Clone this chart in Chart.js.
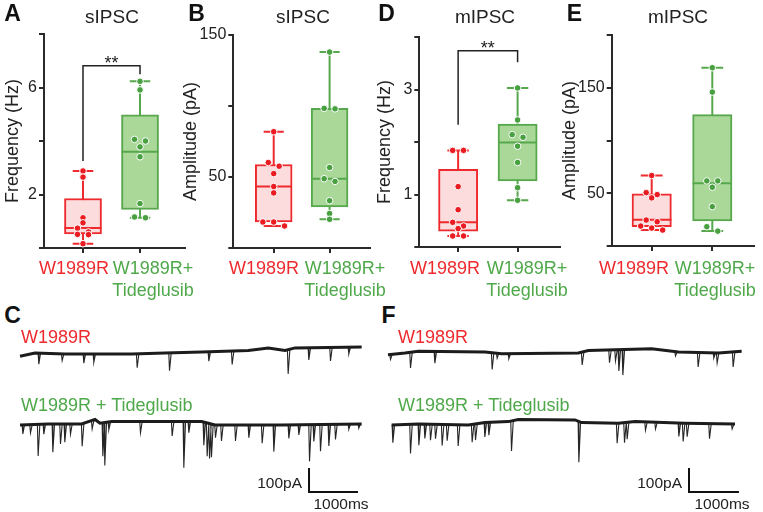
<!DOCTYPE html>
<html>
<head>
  <meta charset="UTF-8">
  <title>sIPSC / mIPSC W1989R vs Tideglusib</title>
  <script src="https://cdn.jsdelivr.net/npm/chart.js@4.4.1/dist/chart.umd.min.js"></script>
  <style>
    body { margin: 0; background: #fff; font-family: "Liberation Sans", Arial, sans-serif; }
    #fig { position: relative; width: 763px; height: 512px; overflow: hidden; }
    canvas { position: absolute; }
    .t { position: absolute; white-space: nowrap; line-height: 1; transform: translate(-50%, -50%); color: #222; }
    .l { position: absolute; white-space: nowrap; line-height: 1; transform: translateY(-50%); font-size: 18px; }
    .r { position: absolute; white-space: nowrap; line-height: 1; transform: translate(-100%, -50%); font-size: 15.5px; color: #222; }
    .letter { font-weight: bold; font-size: 23px; color: #111; }
    .title { font-size: 19px; }
    .cat { position: absolute; white-space: nowrap; text-align: center; line-height: 22px; font-size: 18px; transform: translate(-50%, -11px); }
    .red { color: #ee2a2e; }
    .green { color: #4fa84a; }
  </style>
</head>
<body>
<div id="fig">
  <canvas id="chartA" width="190" height="240" style="left:0px;top:20px"></canvas>
  <canvas id="chartB" width="195" height="239" style="left:180px;top:21px"></canvas>
  <canvas id="chartD" width="195" height="236" style="left:370px;top:23px"></canvas>
  <canvas id="chartE" width="202" height="237" style="left:558px;top:21px"></canvas>
  <canvas id="chartC" width="350" height="170" style="left:15px;top:335px"></canvas>
  <canvas id="chartF" width="365" height="170" style="left:383px;top:335px"></canvas>

  <div class="t letter" style="left:12.5px;top:12.5px">A</div>
  <div class="t letter" style="left:196.5px;top:12.5px">B</div>
  <div class="t letter" style="left:386.5px;top:12.5px">D</div>
  <div class="t letter" style="left:574.5px;top:12.5px">E</div>
  <div class="t letter" style="left:12.5px;top:315px">C</div>
  <div class="t letter" style="left:388.5px;top:315px">F</div>

  <div class="t title" style="left:112px;top:16px">sIPSC</div>
  <div class="t title" style="left:303px;top:16px">sIPSC</div>
  <div class="t title" style="left:485px;top:16px">mIPSC</div>
  <div class="t title" style="left:678px;top:16px">mIPSC</div>

  <div class="l red" style="left:21px;top:337px">W1989R</div>
  <div class="l green" style="left:21px;top:405px">W1989R + Tideglusib</div>
  <div class="l red" style="left:398px;top:337px">W1989R</div>
  <div class="l green" style="left:398px;top:405px">W1989R + Tideglusib</div>

  <div class="r" id="paC" style="left:302px;top:483px"></div>
  <div class="t" id="msC" style="left:341px;top:504px;font-size:15.5px"></div>
  <div class="r" id="paF" style="left:682px;top:483px"></div>
  <div class="t" id="msF" style="left:722px;top:504px;font-size:15.5px"></div>
</div>

<script>
  // ---- categories ----
  const groups = ['W1989R', 'W1989R+ Tideglusib'];

  // ---- A: sIPSC frequency (Hz) ----
  const sFreqMax = 8, sFreqStep = 2, sFreqTicks = [2, 6];
  const sFreqRed = [2.88, 2.65, 1.13, 0.94, 0.74, 0.6, 0.51, 0.5, 0.16];
  const sFreqGreen = [6.23, 5.91, 4.06, 4.0, 3.78, 3.41, 1.66, 1.16, 1.13];
  const sFreqRedBox = [0.16, 0.53, 0.75, 1.85, 2.88];     // min, q1, median, q3, max
  const sFreqGreenBox = [1.13, 1.44, 3.6, 4.98, 6.23];
  const sFreqSig = [3.25, 6.81, 6.5];                     // left foot, top, right foot

  // ---- B: sIPSC amplitude (pA) ----
  const sAmpMax = 150, sAmpStep = 50, sAmpTicks = [50, 150];
  const sAmpRed = [81.9, 60.2, 57.6, 52.4, 43.3, 38.8, 18.3, 18.3, 15.5];
  const sAmpGreen = [138, 98.3, 98, 56.7, 48.8, 46.9, 33.3, 24.3, 20.2];
  const sAmpRedBox = [15.5, 18.3, 43.3, 58.8, 81.9];
  const sAmpGreenBox = [20.2, 29, 48.8, 98.3, 138];

  // ---- D: mIPSC frequency (Hz) ----
  const mFreqMax = 4, mFreqStep = 1, mFreqTicks = [1, 3];
  const mFreqRed = [1.84, 1.84, 1.15, 0.71, 0.47, 0.4, 0.35, 0.21, 0.21];
  const mFreqGreen = [3.03, 2.42, 2.14, 2.09, 1.92, 1.61, 1.13, 0.89];
  const mFreqRedBox = [0.21, 0.3, 0.47, 1.48, 1.84];
  const mFreqGreenBox = [0.89, 1.26, 1.99, 2.34, 3.03];
  const mFreqSig = [2.33, 3.74, 3.52];

  // ---- E: mIPSC amplitude (pA) ----
  const mAmpMax = 200, mAmpStep = 50, mAmpTicks = [50, 150];
  const mAmpRed = [66.8, 50.6, 48.7, 45.6, 24.6, 23.0, 18.9, 17.0, 15.1];
  const mAmpGreen = [169, 145.9, 61.7, 61.7, 55.7, 37.3, 18.3, 14.1];
  const mAmpRedBox = [15.1, 18.3, 24.9, 49.4, 66.8];
  const mAmpGreenBox = [14.1, 23.7, 59.5, 124.6, 169];

  // ---- traces (time ms, current pA relative to each baseline) ----
  const barMs = 1000, barPA = 100;

  const cTopBaseT = [0, 306, 918, 2278, 2958, 3706, 4658, 5066, 5406, 5610, 6970];
  const cTopBaseV = [-18, -4, -8, -8, -4, 0, 6, 17, 6, 17, 21];
  const cTopEvT = [374, 850, 1292, 1496, 2380, 3040, 3842, 4318, 5460, 5882, 6324, 6698];
  const cTopEvAmp = [46, 28, 39, 35, 58, 74, 39, 56, 100, 51, 56, 28];

  const cBotBaseT = [0, 578, 1258, 1530, 1632, 1870, 3706, 3978, 5338, 6970];
  const cBotBaseV = [-4, 0, 0, 19, 3, 10, 10, -4, -4, 0];
  const cBotEvT = [48, 204, 360, 476, 660, 816, 904, 1020, 1258, 1462, 1680, 1720, 1802, 2448, 3094, 3332, 3434,
                   3740, 3808, 3856, 3896, 3978, 4100, 4386, 4658, 4930, 5168, 5474, 5678, 5896, 5984, 6120, 6290, 6426, 6698, 6902];
  const cBotEvAmp = [38, 35, 132, 42, 118, 83, 76, 42, 93, 35, 139, 178, 32, 46, 60, 192, 46,
                     97, 139, 146, 139, 53, 67, 67, 53, 76, 111, 56, 42, 153, 70, 111, 90, 63, 21, 17];

  const fTopBaseT = [0, 340, 607, 1940, 2273, 3807, 4007, 5273, 5807, 6607, 7073];
  const fTopBaseV = [-11, -4, 3, 0, -7, -4, 6, 13, 0, -4, 3];
  const fTopEvT = [40, 440, 927, 2073, 2173, 2407, 3873, 4420, 4540, 4607, 4687, 5740, 6193, 6507, 6573, 6893];
  const fTopEvAmp = [21, 65, 49, 70, 21, 21, 53, 53, 46, 88, 106, 18, 60, 21, 42, 63];

  const fBotBaseT = [73, 607, 1607, 1940, 2407, 2607, 3740, 3873, 4607, 4940, 5940, 6940];
  const fBotBaseV = [-4, 0, -4, 6, 10, 19, 17, 6, 3, 10, 3, 0];
  const fBotEvT = [87, 440, 607, 727, 840, 940, 1073, 1173, 1393, 1673, 1740, 1927, 2007, 2460, 3807,
                   4573, 4720, 4773, 5140, 5340, 5807, 5893, 5973, 6420, 6873];
  const fBotEvAmp = [74, 122, 88, 60, 67, 60, 88, 67, 88, 74, 67, 60, 53, 125, 171,
                     83, 83, 70, 35, 28, 56, 76, 56, 63, 21];

  // ---- styling ----
  const RED = '#ee2a2e', RED_FILL = '#fcdcdc', RED_DOT = '#ea1c22';
  const GREEN = '#57a84d', GREEN_FILL = '#a9d898', GREEN_DOT = '#48a040';
  const INK = '#2a2a2a';

  Chart.defaults.font.family = '"Liberation Sans", Arial, sans-serif';
  Chart.defaults.color = '#222';
  Chart.defaults.plugins.legend.display = false;
  Chart.defaults.plugins.tooltip.enabled = false;

  const sigStars = {
    id: 'sigStars',
    afterDatasetsDraw(chart, args, opts) {
      if (!opts.bracket) return;
      const { ctx, scales: { x, y } } = chart;
      ctx.save();
      ctx.font = '18px "Liberation Sans", Arial, sans-serif';
      ctx.fillStyle = '#222';
      ctx.textAlign = 'center';
      ctx.textBaseline = 'alphabetic';
      ctx.fillText('**', x.getPixelForValue(1.5), y.getPixelForValue(opts.bracket[1]) + 3);
      ctx.restore();
    }
  };

  // rows of points, like the scatter in the original figure
  function swarm(values, center, yPx, xPx) {
    const sorted = values.slice().sort((a, b) => b - a);
    const pts = [];
    let row = [];
    const flush = () => {
      row.forEach((v, i) => pts.push({ x: center + (i - (row.length - 1) / 2) * 11 / xPx, y: v }));
      row = [];
    };
    sorted.forEach(v => {
      if (row.length && (row[0] - v) * yPx > 5) flush();
      row.push(v);
    });
    flush();
    return pts;
  }

  function boxChart(id, c) {
    const canvas = document.getElementById(id);
    const plotH = canvas.height - c.padTop - 12;
    const plotW = canvas.width - c.axisW - c.padRight;
    const yPx = plotH / c.yMax, xPx = plotW / (c.xMax - c.xMin);
    const half = 0.325, cap = 0.18;
    const datasets = [];

    [[c.redBox, RED, 1], [c.greenBox, GREEN, 2]].forEach(([b, col, x]) => {
      datasets.push({
        type: 'line', order: 4, borderColor: col, borderWidth: 2, pointRadius: 0, spanGaps: false,
        data: [{ x, y: b[0] }, { x, y: b[4] }, { x, y: null },
               { x: x - cap, y: b[4] }, { x: x + cap, y: b[4] }, { x, y: null },
               { x: x - cap, y: b[0] }, { x: x + cap, y: b[0] }]
      });
      datasets.push({
        type: 'line', order: 2, borderColor: col, borderWidth: 2, pointRadius: 0,
        data: [{ x: x - half, y: b[2] }, { x: x + half, y: b[2] }]
      });
    });

    datasets.push({
      type: 'bar', order: 3,
      data: [{ x: 1, y: [c.redBox[1], c.redBox[3]] }, { x: 2, y: [c.greenBox[1], c.greenBox[3]] }],
      backgroundColor: [RED_FILL, GREEN_FILL], borderColor: [RED, GREEN],
      borderWidth: 2, borderSkipped: false, barThickness: 2 * half * xPx
    });

    [[c.red, RED_DOT, 1], [c.green, GREEN_DOT, 2]].forEach(([vals, col, x]) => {
      datasets.push({
        type: 'scatter', order: 1, data: swarm(vals, x, yPx, xPx),
        pointRadius: 3.3, pointBackgroundColor: col, pointBorderColor: '#fff', pointBorderWidth: 1
      });
    });

    if (c.bracket) {
      datasets.push({
        type: 'line', order: 0, borderColor: '#222', borderWidth: 1.5, pointRadius: 0,
        data: [{ x: 1, y: c.bracket[0] }, { x: 1, y: c.bracket[1] }, { x: 2, y: c.bracket[1] }, { x: 2, y: c.bracket[2] }]
      });
    }

    const axisGrid = { drawOnChartArea: false, drawTicks: true, tickLength: 5, color: INK, lineWidth: 2, offset: false };
    new Chart(canvas, {
      type: 'scatter',
      data: { datasets },
      plugins: [sigStars],
      options: {
        responsive: false,
        animation: false,
        layout: { padding: { top: c.padTop, right: c.padRight, left: 0, bottom: 0 } },
        plugins: { sigStars: { bracket: c.bracket } },
        scales: {
          x: {
            type: 'linear', min: c.xMin, max: c.xMax, offset: false,
            afterBuildTicks: s => { s.ticks = [{ value: 1 }, { value: 2 }]; },
            ticks: { display: false },
            grid: axisGrid,
            border: { color: INK, width: 2 },
            afterFit: s => { s.height = 12; }
          },
          y: {
            type: 'linear', min: 0, max: c.yMax, offset: false,
            ticks: { stepSize: c.yStep, padding: 2, font: { size: 16 }, color: '#222',
                     callback: v => c.yLabels.includes(v) ? String(v) : '' },
            grid: axisGrid,
            border: { color: INK, width: 2 },
            title: { display: true, text: c.title, font: { size: 18 }, color: '#222', padding: { top: c.titlePad, bottom: 0 } },
            afterFit: s => { s.width = c.axisW; }
          }
        }
      }
    });
  }

  function interp(ts, vs, t) {
    if (t <= ts[0]) return vs[0];
    for (let i = 1; i < ts.length; i++) {
      if (t <= ts[i]) return vs[i - 1] + (vs[i] - vs[i - 1]) * (t - ts[i - 1]) / (ts[i] - ts[i - 1]);
    }
    return vs[vs.length - 1];
  }

  function traceChart(id, c) {
    const datasets = [];
    c.traces.forEach(tr => {
      datasets.push({
        data: tr.baseT.map((t, i) => ({ x: t, y: tr.baseV[i] + tr.offset })),
        borderColor: '#1c1c1c', borderWidth: 3, pointRadius: 0
      });
      const spikes = [];
      tr.evT.forEach((t, i) => {
        const b = interp(tr.baseT, tr.baseV, t) + tr.offset;
        spikes.push({ x: t - 5, y: b + 1 }, { x: t + 10, y: b - tr.evAmp[i] }, { x: t + 45, y: b }, { x: t + 45, y: null });
      });
      datasets.push({ data: spikes, borderColor: '#262626', borderWidth: 1.1, pointRadius: 0, spanGaps: false });
    });
    datasets.push({
      data: [{ x: c.barT, y: c.barV + barPA }, { x: c.barT, y: c.barV }, { x: c.barT + barMs, y: c.barV }],
      borderColor: '#111', borderWidth: 2, pointRadius: 0
    });
    new Chart(document.getElementById(id), {
      type: 'line',
      data: { datasets },
      options: {
        responsive: false,
        animation: false,
        layout: { padding: 0 },
        scales: {
          x: { type: 'linear', display: false, min: c.xMin, max: c.xMax },
          y: { type: 'linear', display: false, min: -637.5, max: 70.8 }
        }
      }
    });
  }

  // category labels under each box panel
  const catCenters = [[74, 153], [264, 345], [445, 527], [634, 715]];
  const fig = document.getElementById('fig');
  catCenters.forEach(([rx, gx]) => {
    const r = document.createElement('div');
    r.className = 'cat red';
    r.style.left = rx + 'px'; r.style.top = '267.5px';
    r.textContent = groups[0];
    fig.appendChild(r);
    const g = document.createElement('div');
    g.className = 'cat green';
    g.style.left = gx + 'px'; g.style.top = '267.5px';
    g.innerHTML = groups[1].replace(' ', '<br>');
    fig.appendChild(g);
  });

  ['paC', 'paF'].forEach(id => document.getElementById(id).textContent = barPA + 'pA');
  ['msC', 'msF'].forEach(id => document.getElementById(id).textContent = barMs + 'ms');

  boxChart('chartA', { red: sFreqRed, green: sFreqGreen, redBox: sFreqRedBox, greenBox: sFreqGreenBox,
    yMax: sFreqMax, yStep: sFreqStep, yLabels: sFreqTicks, title: 'Frequency (Hz)', bracket: sFreqSig,
    xMin: 0.316, xMax: 2.789, axisW: 44, padTop: 14, padRight: 5, titlePad: 2.7 });
  boxChart('chartB', { red: sAmpRed, green: sAmpGreen, redBox: sAmpRedBox, greenBox: sAmpGreenBox,
    yMax: sAmpMax, yStep: sAmpStep, yLabels: sAmpTicks, title: 'Amplitude (pA)',
    xMin: 0.277, xMax: 2.723, axisW: 53.3, padTop: 14, padRight: 3, titlePad: 0.7 });
  boxChart('chartD', { red: mFreqRed, green: mFreqGreen, redBox: mFreqRedBox, greenBox: mFreqGreenBox,
    yMax: mFreqMax, yStep: mFreqStep, yLabels: mFreqTicks, title: 'Frequency (Hz)', bracket: mFreqSig,
    xMin: 0.347, xMax: 2.713, axisW: 49.3, padTop: 14, padRight: 3, titlePad: 4.2 });
  boxChart('chartE', { red: mAmpRed, green: mAmpGreen, redBox: mAmpRedBox, greenBox: mAmpGreenBox,
    yMax: mAmpMax, yStep: mAmpStep, yLabels: mAmpTicks, title: 'Amplitude (pA)',
    xMin: 0.34, xMax: 2.688, axisW: 53.7, padTop: 14, padRight: 6, titlePad: 1.2 });

  traceChart('chartC', {
    xMin: -102, xMax: 7038, barT: 5896, barV: -583,
    traces: [
      { baseT: cTopBaseT, baseV: cTopBaseV, evT: cTopEvT, evAmp: cTopEvAmp, offset: 0 },
      { baseT: cBotBaseT, baseV: cBotBaseV, evT: cBotEvT, evAmp: cBotEvAmp, offset: -300 }
    ]
  });
  traceChart('chartF', {
    xMin: -100, xMax: 7200, barT: 6020, barV: -583,
    traces: [
      { baseT: fTopBaseT, baseV: fTopBaseV, evT: fTopEvT, evAmp: fTopEvAmp, offset: 0 },
      { baseT: fBotBaseT, baseV: fBotBaseV, evT: fBotEvT, evAmp: fBotEvAmp, offset: -300 }
    ]
  });
</script>
</body>
</html>
